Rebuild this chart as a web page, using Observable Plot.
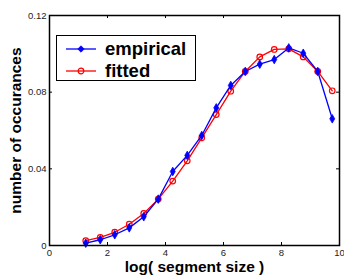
<!DOCTYPE html>
<html><head><meta charset="utf-8">
<script src="https://cdn.jsdelivr.net/npm/d3@7"></script>
<script src="https://cdn.jsdelivr.net/npm/@observablehq/plot@0.6"></script>
<style>
body{margin:0;background:#fff;font-family:"Liberation Sans",Arial,sans-serif;}
#wrap{position:relative;width:344px;height:276px;overflow:hidden;}
#legend{position:absolute;left:56px;top:35px;width:138px;height:44px;border:1.5px solid #000;background:#fff;}
#legend .row{position:absolute;left:0;height:22px;display:flex;align-items:center;}
#legend .lab{font-weight:bold;font-size:18.5px;margin-left:9px;color:#000;}
</style></head>
<body><div id="wrap"></div>
<script>
const xs = [1.25,1.75,2.25,2.75,3.25,3.75,4.25,4.75,5.25,5.75,6.25,6.75,7.25,7.75,8.25,8.75,9.25,9.75];
const empirical = [0.0012,0.0030,0.0056,0.0092,0.0150,0.0242,0.0386,0.0470,0.0574,0.0718,0.0835,0.0908,0.0946,0.0970,0.1031,0.1003,0.0908,0.0661];
const fitted = [0.0025,0.0042,0.0069,0.0111,0.0167,0.0242,0.0336,0.0442,0.0562,0.0683,0.0805,0.0908,0.0984,0.1023,0.1026,0.0984,0.0908,0.0807];
const xTicks = [0,2,4,6,8,10];
const yTicks = [0,0.04,0.08,0.12];
const yTickLabels = ["0","0.04","0.08","0.12"];
const seriesNames = ["empirical","fitted"];

const emp = xs.map((x,i)=>({x, y: empirical[i]}));
const fit = xs.map((x,i)=>({x, y: fitted[i]}));

const W=344,H=276,mL=49,mR=5,mT=15,mB=31;
const ih = H-mT-mB, iw = W-mL-mR, tl = 3;

const chart = Plot.plot({
  width: W, height: H,
  marginLeft: mL, marginRight: mR, marginTop: mT, marginBottom: mB,
  style: {fontFamily: "'Liberation Sans', Arial, sans-serif", background: "#fff", overflow: "visible"},
  x: {domain: [0,10]},
  y: {domain: [0,0.12]},
  marks: [
    Plot.axisX({ticks: xTicks, tickSize: 0, tickPadding: 4, fontSize: 9.5, fill: "#222", label: null}),
    Plot.axisY({ticks: yTicks, tickSize: 0, tickPadding: 3, fontSize: 9.5, fill: "#222", label: null,
      tickFormat: d => yTickLabels[yTicks.indexOf(d)]}),
    Plot.ruleX(xTicks, {x: d=>d, insetTop: ih-tl, stroke: "#000"}),
    Plot.ruleX(xTicks, {x: d=>d, insetBottom: ih-tl, stroke: "#000"}),
    Plot.ruleY(yTicks, {y: d=>d, insetRight: iw-tl, stroke: "#000"}),
    Plot.ruleY(yTicks, {y: d=>d, insetLeft: iw-tl, stroke: "#000"}),
    Plot.line(fit, {x: "x", y: "y", stroke: "#ff0000", strokeWidth: 1.3}),
    Plot.dot(fit, {x: "x", y: "y", stroke: "#ff0000", r: 2.8, strokeWidth: 1.2, fill: "none"}),
    Plot.line(emp, {x: "x", y: "y", stroke: "#0000ff", strokeWidth: 1.3}),
    Plot.dot(emp, {x: "x", y: "y", symbol: "diamond", stroke: "#0000ff", fill: "#0000ff", r: 2.6, strokeWidth: 0.8}),
    Plot.frame({stroke: "#000", strokeWidth: 1.5}),
    Plot.text(["log( segment size )"], {frameAnchor: "bottom", dy: 26.5, fontWeight: "bold", fontSize: 15.5, fill: "#000"}),
    Plot.text(["number of occurances"], {frameAnchor: "left", textAnchor: "middle", dx: -33, rotate: -90, fontWeight: "bold", fontSize: 15.5, fill: "#000"})
  ]
});
const wrap = document.getElementById("wrap");
wrap.appendChild(chart);

const leg = document.createElement("div");
leg.id = "legend";
const colors = ["#0000ff","#ff0000"];
seriesNames.forEach((name,i)=>{
  const row = document.createElement("div");
  row.className = "row";
  row.style.top = (i===0 ? 1.5 : 23.5) + "px";
  const sym = i===0
    ? `<path d="M15,-3.2 L18.2,0 L15,3.2 L11.8,0Z" fill="${colors[i]}" stroke="${colors[i]}" stroke-width="0.8"/>`
    : `<circle cx="15" cy="0" r="2.8" fill="none" stroke="${colors[i]}" stroke-width="1.2"/>`;
  row.innerHTML = `<svg width="30" height="10" viewBox="0 -5 30 10" style="margin-left:9px;overflow:visible"><line x1="0" x2="30" y1="0" y2="0" stroke="${colors[i]}" stroke-width="1.3"/>${sym}</svg><span class="lab">${name}</span>`;
  leg.appendChild(row);
});
wrap.appendChild(leg);
</script></body></html>
